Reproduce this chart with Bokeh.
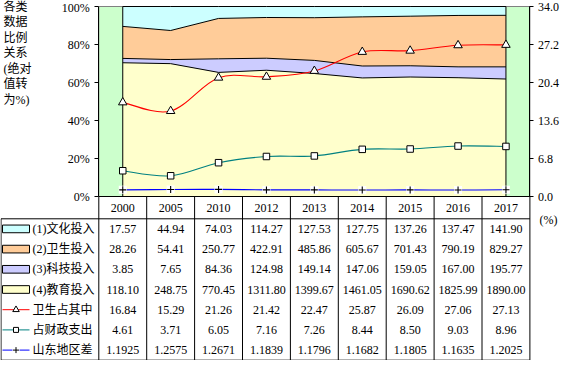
import numpy as np
from bokeh.plotting import figure
from bokeh.models import ColumnDataSource, Range1d, LinearAxis, FixedTicker, NumeralTickFormatter
from bokeh.core.properties import value
from bokeh.embed import file_html
from bokeh.resources import INLINE

# ---------------- data ----------------
years = ["2000", "2005", "2010", "2012", "2013", "2014", "2015", "2016", "2017"]
culture = [17.57, 44.94, 74.03, 114.27, 127.53, 127.75, 137.26, 137.47, 141.90]
health = [28.26, 54.41, 250.77, 422.91, 485.86, 605.67, 701.43, 790.19, 829.27]
science = [3.85, 7.65, 84.36, 124.98, 149.14, 147.06, 159.05, 167.00, 195.77]
education = [118.10, 248.75, 770.45, 1311.80, 1399.67, 1461.05, 1690.62, 1825.99, 1890.00]
health_share = [16.84, 15.29, 21.26, 21.42, 22.47, 25.87, 26.09, 27.06, 27.13]
fiscal_share = [4.61, 3.71, 6.05, 7.16, 7.26, 8.44, 8.50, 9.03, 8.96]
sd_gap = [1.1925, 1.2575, 1.2671, 1.1839, 1.1796, 1.1682, 1.1805, 1.1635, 1.2025]
row_names = ["(1)文化投入", "(2)卫生投入", "(3)科技投入", "(4)教育投入",
             "卫生占其中", "占财政支出", "山东地区差"]
pct_ticks = [0, 20, 40, 60, 80, 100]
right_ticks = [0, 6.8, 13.6, 20.4, 27.2, 34.0]
right_max = 34.0
y_title = ["各类", "数据", "比例", "关系", "(绝对", "值转", "为%)"]

# ---------------- geometry (pixels) ----------------
W, H = 560, 360
X0, CW = 98.3, 47.9       # plot-area left, category width
Y0, PY = 196.0, 1.9       # 0% line, px per percent
TT, RH = 218.3, 20.2      # table top, row height
n = len(years)
TB = TT + 7 * RH          # table bottom
XR = X0 + n * CW          # plot right

SERIF = value("Liberation Serif")
MIXED = value("Liberation Serif, Noto Sans CJK SC")

ymin, ymax = -(H - Y0) / PY, Y0 / PY
p = figure(width=W, height=H,
           x_range=Range1d(-X0 / CW, (W - X0) / CW),
           y_range=Range1d(ymin, ymax),
           output_backend="svg", toolbar_location=None,
           x_axis_location=None, y_axis_location=None,
           min_border=0, outline_line_color=None)
p.grid.visible = False
p.background_fill_color = "white"
p.border_fill_color = "white"
p.extra_x_ranges = {"px": Range1d(0, W)}
p.extra_y_ranges = {
    "pct2": Range1d(ymin * right_max / 100, ymax * right_max / 100),
    "tbl": Range1d(start=(H - TT) / RH, end=-TT / RH),
    "py": Range1d(start=H, end=0),
}

xc = np.arange(n) + 0.5

# plot area background
p.quad(left=0, right=n, bottom=0, top=100, fill_color="#CCFFCC", line_color="#808080", line_width=1)

# 100% stacked areas
tot = np.array(culture) + np.array(health) + np.array(science) + np.array(education)
src = ColumnDataSource(dict(
    x=xc,
    e=np.array(education) / tot * 100,
    s=np.array(science) / tot * 100,
    h=np.array(health) / tot * 100,
    c=np.array(culture) / tot * 100,
))
stack = ["e", "s", "h", "c"]
p.varea_stack(stack, x="x", color=["#FFFFCC", "#CCCCFF", "#FFCC99", "#CCFFFF"], source=src)
p.vline_stack(stack, x="x", color="black", line_width=1, source=src)
p.segment(x0=[xc[0], xc[-1]], y0=[0, 0], x1=[xc[0], xc[-1]], y1=[100, 100], line_color="black", line_width=1)


def smooth(xs, ys):
    xs = np.asarray(xs, float)
    ys = np.asarray(ys, float)
    m = len(xs)
    out = dict(x0=[], y0=[], x1=[], y1=[], cx0=[], cy0=[], cx1=[], cy1=[])
    for i in range(m - 1):
        a = i - 1 if i > 0 else i
        b = i + 2 if i + 2 < m else i + 1
        out["x0"].append(xs[i]); out["y0"].append(ys[i])
        out["x1"].append(xs[i + 1]); out["y1"].append(ys[i + 1])
        out["cx0"].append(xs[i] + (xs[i + 1] - xs[a]) / 6)
        out["cy0"].append(ys[i] + (ys[i + 1] - ys[a]) / 6)
        out["cx1"].append(xs[i + 1] - (xs[b] - xs[i]) / 6)
        out["cy1"].append(ys[i + 1] - (ys[b] - ys[i]) / 6)
    return out


for ser, col in [(health_share, "#FF0000"), (fiscal_share, "#008080"), (sd_gap, "#0000FF")]:
    d = smooth(xc, ser)
    p.bezier(source=ColumnDataSource(d), x0="x0", y0="y0", x1="x1", y1="y1",
             cx0="cx0", cy0="cy0", cx1="cx1", cy1="cy1",
             line_color=col, line_width=1.1, y_range_name="pct2")

p.scatter(xc, health_share, marker="triangle", size=8.5, fill_color="white",
          line_color="black", line_width=1, y_range_name="pct2")
p.scatter(xc, fiscal_share, marker="square", size=6.5, fill_color="white",
          line_color="black", line_width=1, y_range_name="pct2")
p.scatter(xc, sd_gap, marker="square", size=8, fill_color="white",
          line_color=None, y_range_name="pct2")
p.scatter(xc, sd_gap, marker="cross", size=7, line_color="black",
          line_width=1.1, y_range_name="pct2")

# ---------------- axes ----------------
la = LinearAxis(ticker=FixedTicker(ticks=pct_ticks),
                major_label_overrides={t: f"{t}%" for t in pct_ticks},
                fixed_location=0, bounds=(0, 100))
ra = LinearAxis(y_range_name="pct2", ticker=FixedTicker(ticks=right_ticks),
                formatter=NumeralTickFormatter(format="0.0"),
                fixed_location=n, bounds=(0, right_max))
for ax, so in [(la, 5), (ra, 4)]:
    ax.axis_line_color = "black"
    ax.axis_line_width = 1
    ax.major_tick_line_color = "black"
    ax.major_tick_in = 0
    ax.major_tick_out = 4
    ax.minor_tick_line_color = None
    ax.major_label_text_font = "Liberation Serif"
    ax.major_label_text_font_size = "12px"
    ax.major_label_text_color = "black"
    ax.major_label_standoff = so
p.add_layout(la, "left")
p.add_layout(ra, "right")

# ---------------- data table ----------------
p.segment(x0=[0], y0=[0], x1=[n], y1=[0], line_color="black", line_width=1)
kk = np.arange(n + 1)
p.segment(x0=kk, y0=[Y0] * (n + 1), x1=kk, y1=[TB] * (n + 1),
          line_color="black", line_width=1, y_range_name="py")
p.segment(x0=[0.5, 0.5, 0.5], y0=[TT, TB, TT], x1=[XR, XR, 0.5], y1=[TT, TB, TB],
          line_color="black", line_width=1, x_range_name="px", y_range_name="py")

p.text(x=xc, y=[-0.55] * n, text=years, text_font=SERIF, text_font_size="12px",
       text_align="center", text_baseline="middle", text_color="black", y_range_name="tbl")

rows = [culture, health, science, education, health_share, fiscal_share, sd_gap]
for i, row in enumerate(rows):
    fmt = "{:.4f}" if i == 6 else "{:.2f}"
    p.text(x=xc, y=[i + 0.5] * n, text=[fmt.format(v) for v in row],
           text_font=SERIF, text_font_size="12px", text_align="center",
           text_baseline="middle", text_color="black", y_range_name="tbl")

# legend keys
key_cols = ["#CCFFFF", "#FFCC99", "#CCCCFF", "#FFFFCC"]
for i, c in enumerate(key_cols):
    p.quad(left=2, right=29, bottom=i + 0.5 + 0.19, top=i + 0.5 - 0.19,
           fill_color=c, line_color="black", line_width=1,
           x_range_name="px", y_range_name="tbl")
line_cols = ["#FF0000", "#008080", "#0000FF"]
for j, c in enumerate(line_cols):
    r = 4 + j + 0.5
    p.segment(x0=[2], y0=[r], x1=[29], y1=[r], line_color=c, line_width=1,
              x_range_name="px", y_range_name="tbl")
p.scatter([15.5], [4.5], marker="triangle", size=6.5, fill_color="white", line_color="black",
          x_range_name="px", y_range_name="tbl")
p.scatter([15.5], [5.5], marker="square", size=5, fill_color="white", line_color="black",
          x_range_name="px", y_range_name="tbl")
p.scatter([15.5], [6.5], marker="square", size=7, fill_color="white", line_color=None,
          x_range_name="px", y_range_name="tbl")
p.scatter([15.5], [6.5], marker="cross", size=6, line_color="black",
          x_range_name="px", y_range_name="tbl")

p.text(x=[32] * 7, y=[i + 0.5 for i in range(7)], text=row_names, text_font=MIXED,
       text_font_size="12px", text_align="left", text_baseline="middle",
       text_color="black", x_range_name="px", y_range_name="tbl")

# y-axis title (vertical, two characters per line)
p.text(x=[3] * len(y_title), y=[6 + 15.5 * i for i in range(len(y_title))], text=y_title,
       text_font=MIXED, text_font_size="12px", text_align="left", text_baseline="middle",
       text_color="black", x_range_name="px", y_range_name="py")
# unit of right axis
p.text(x=[548], y=[219], text=["(%)"], text_font=SERIF, text_font_size="12px",
       text_align="center", text_baseline="middle", text_color="black",
       x_range_name="px", y_range_name="py")

open("out.html", "w").write(file_html(p, INLINE))
